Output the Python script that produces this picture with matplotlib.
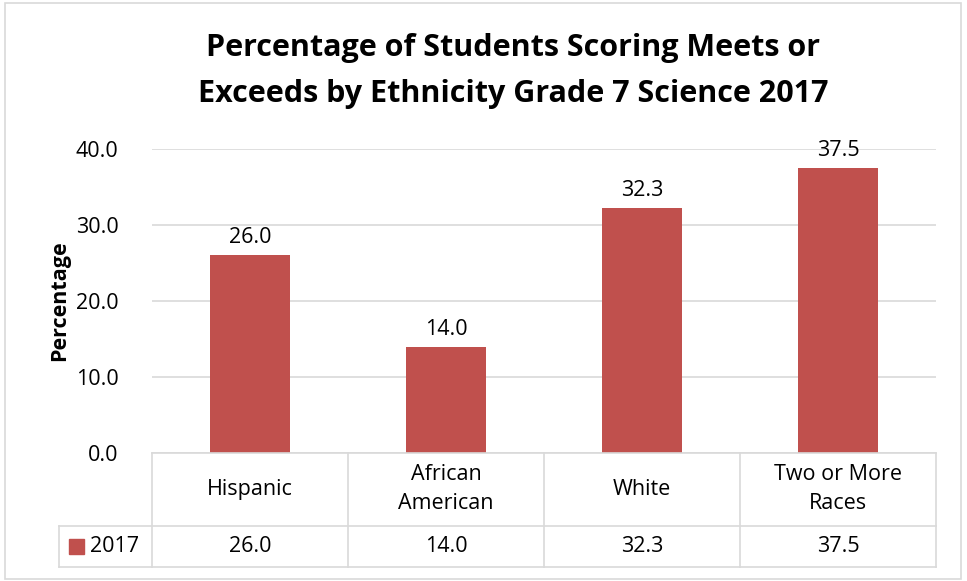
import matplotlib.pyplot as plt
from matplotlib.patches import Rectangle

plt.rcParams['font.family'] = ['Open Sans', 'DejaVu Sans']

categories = ['Hispanic', 'African\nAmerican', 'White', 'Two or More\nRaces']
values = [26.0, 14.0, 32.3, 37.5]
series_name = '2017'
yticks = [0, 10, 20, 30, 40]

bar_color = '#C0504D'
grid_color = '#D9D9D9'
fs = 15.5

fig = plt.figure(figsize=(9.67, 5.81), dpi=100)
ax = fig.add_axes([152 / 967, 128 / 581, 784 / 967, 304 / 581])

x = list(range(len(categories)))
ax.bar(x, values, width=0.41, color=bar_color, zorder=3)
for xi, v in zip(x, values):
    ax.annotate(f'{v:.1f}', (xi, v), xytext=(0, 5), textcoords='offset points',
                ha='center', va='bottom', fontsize=fs, annotation_clip=False)

ax.set_xlim(-0.5, len(categories) - 0.5)
ax.set_ylim(0, 40)
ax.set_yticks(yticks)
ax.set_yticklabels([f'{t:.1f}' for t in yticks], fontsize=fs)
ax.set_xticks([])
ax.tick_params(axis='y', length=0, pad=24)
ax.grid(axis='y', color=grid_color, linewidth=1.2, zorder=0)
for s in ax.spines.values():
    s.set_visible(False)
ax.set_ylabel('Percentage', fontsize=fs, fontweight='bold', labelpad=4)

# data table under the axis
trans = ax.get_xaxis_transform()
y_mid = -0.240
y_bot = -0.375
lw = 1.2
n = len(categories)
ax.plot([-0.5, n - 0.5], [0, 0], color=grid_color, lw=lw, transform=trans, clip_on=False, zorder=4)
leg_left = -0.5 - 93 / 196
ax.plot([leg_left, n - 0.5], [y_mid, y_mid], color=grid_color, lw=lw, transform=trans, clip_on=False)
ax.plot([leg_left, n - 0.5], [y_bot, y_bot], color=grid_color, lw=lw, transform=trans, clip_on=False)
ax.plot([leg_left, leg_left], [y_mid, y_bot], color=grid_color, lw=lw, transform=trans, clip_on=False)
for i in range(n + 1):
    ax.plot([i - 0.5, i - 0.5], [0, y_bot], color=grid_color, lw=lw, transform=trans, clip_on=False)

for xi, cat, v in zip(x, categories, values):
    ax.text(xi, y_mid / 2, cat, ha='center', va='center', fontsize=fs,
            transform=trans, linespacing=1.5)
    ax.text(xi, (y_mid + y_bot) / 2, f'{v:.1f}', ha='center', va='center',
            fontsize=fs, transform=trans)

row_c = (y_mid + y_bot) / 2
ax.add_patch(Rectangle((leg_left + 0.051, row_c - 0.0245), 0.0765, 0.049,
                       color=bar_color, transform=trans, clip_on=False))
ax.text(leg_left + 0.158, row_c, series_name, ha='left', va='center',
        fontsize=fs, transform=trans)

fig.suptitle('Percentage of Students Scoring Meets or\nExceeds by Ethnicity Grade 7 Science 2017',
             x=513 / 967, y=1 - 33 / 581, va='top', fontsize=22, fontweight='bold', linespacing=1.7)

fig.add_artist(Rectangle((5 / 967, 2 / 581), 956 / 967, 576 / 581, fill=False,
                         edgecolor=grid_color, lw=1.2, transform=fig.transFigure))

fig.savefig('out.png', dpi=100)
